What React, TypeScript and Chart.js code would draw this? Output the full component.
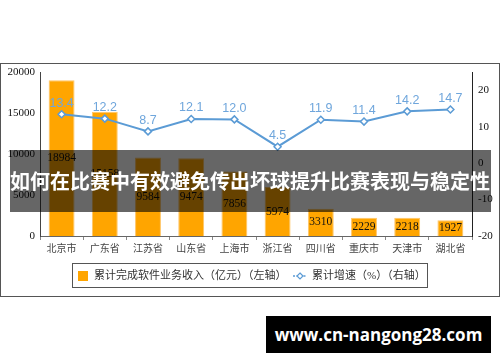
import React, { useEffect, useRef } from "react";
import { Chart, registerables } from "chart.js";

Chart.register(...registerables);

const categories = ["北京市", "广东省", "江苏省", "山东省", "上海市", "浙江省", "四川省", "重庆市", "天津市", "湖北省"];
const revenue = [18984, 15158, 9584, 9474, 7856, 5974, 3310, 2229, 2218, 1927];
const growth = [13.4, 12.2, 8.7, 12.1, 12.0, 4.5, 11.9, 11.4, 14.2, 14.7];
const rightTicks = [-20, -10, 0, 10, 20];
const barLabel = "累计完成软件业务收入（亿元）（左轴）";
const lineLabel = "累计增速（%）（右轴）";
const bannerText = "如何在比赛中有效避免传出坏球提升比赛表现与稳定性";
const siteText = "www.cn-nangong28.com";

const ORANGE = "#FFA500";
const BLUE = "#5B9BD5";
const SERIF = '"Liberation Serif", "Times New Roman", "Noto Sans CJK SC", serif';

const labelPlugin = {
  id: "valueLabels",
  afterDatasetsDraw(chart: any) {
    const ctx = chart.ctx;
    ctx.save();
    chart.data.datasets.forEach((ds: any, i: number) => {
      const meta = chart.getDatasetMeta(i);
      meta.data.forEach((el: any, j: number) => {
        const v = ds.data[j];
        if (ds.type === "bar") {
          ctx.font = "11.5px " + SERIF;
          ctx.fillStyle = "#111";
          ctx.textAlign = "center";
          ctx.textBaseline = "middle";
          ctx.fillText(String(v), el.x, (el.y + el.base) / 2);
        } else {
          ctx.font = '12.5px "Liberation Sans", Arial, sans-serif';
          ctx.fillStyle = "#6FA6DC";
          ctx.textAlign = "center";
          ctx.textBaseline = "middle";
          ctx.fillText(v.toFixed(1), el.x, el.y - 11);
        }
      });
    });
    ctx.restore();
  },
};

export default function App() {
  const ref = useRef<HTMLCanvasElement | null>(null);
  useEffect(() => {
    if (!ref.current) return;
    const chart = new Chart(ref.current, {
      type: "bar",
      data: {
        labels: categories,
        datasets: [
          {
            type: "line",
            label: lineLabel,
            data: growth,
            yAxisID: "y1",
            borderColor: BLUE,
            borderWidth: 2,
            pointStyle: "rectRot",
            pointRadius: 3.5,
            pointBackgroundColor: "#fff",
            pointBorderColor: BLUE,
            pointBorderWidth: 1.5,
            tension: 0,
            order: 0,
          } as any,
          {
            type: "bar",
            label: barLabel,
            data: revenue,
            yAxisID: "y",
            backgroundColor: ORANGE,
            borderColor: "#FFC566",
            borderWidth: 1,
            categoryPercentage: 0.6,
            barPercentage: 1,
            order: 1,
          } as any,
        ],
      },
      options: {
        responsive: false,
        animation: false,
        layout: { padding: { top: 72, left: 0, right: 0, bottom: 0 } },
        plugins: { legend: { display: false }, tooltip: { enabled: false } },
        scales: {
          x: {
            grid: { display: true, drawOnChartArea: false, drawTicks: true, tickLength: 4, color: "#888", offset: true },
            border: { color: "#666", width: 1 },
            ticks: { padding: 3, color: "#444", font: { size: 10, family: SERIF } },
            afterFit: (s: any) => { s.height = 126; },
          },
          y: {
            position: "left",
            min: 0,
            max: 20000,
            ticks: { stepSize: 5000, padding: 5, color: "#111", font: { size: 11, family: SERIF }, callback: (v: any) => String(v) },
            grid: { display: false, drawTicks: false },
            border: { color: "#444", width: 1 },
            afterFit: (s: any) => { s.width = 40; },
          },
          y1: {
            position: "right",
            min: -20,
            max: 25,
            ticks: { stepSize: 10, padding: 6, color: "#111", font: { size: 11, family: SERIF }, callback: (v: any) => String(v) },
            grid: { display: false, drawTicks: false },
            border: { color: "#222", width: 1 },
            afterBuildTicks: (s: any) => { s.ticks = rightTicks.map((v) => ({ value: v })); },
            afterFit: (s: any) => { s.width = 28; },
          },
        },
      },
      plugins: [labelPlugin],
    });
    return () => chart.destroy();
  }, []);

  return (
    <div style={{ position: "absolute", left: 0, top: 0, width: 500, height: 362, background: "#fff", overflow: "hidden" }}>
      <div style={{ position: "absolute", left: 0, top: 63, width: 500, height: 234, border: "1.5px solid #555", boxSizing: "border-box" }} />
      <canvas ref={ref} width={500} height={362} style={{ position: "absolute", left: 0, top: 0, display: "block" }} />
      <div style={{ position: "absolute", left: 72, top: 263, width: 356, height: 25, border: "1px solid #555", boxSizing: "border-box", fontFamily: SERIF, fontSize: 11, color: "#333" }}>
        <div style={{ position: "absolute", left: 5, top: 7, width: 10, height: 10, background: ORANGE }} />
        <div style={{ position: "absolute", left: 21, top: 4, whiteSpace: "nowrap", lineHeight: "15px" }}>{barLabel}</div>
        <svg style={{ position: "absolute", left: 220, top: 7 }} width="14" height="10">
          <line x1="0" y1="5" x2="14" y2="5" stroke={BLUE} strokeWidth="1.5" strokeDasharray="2,1.5" />
          <polygon points="7,2 10,5 7,8 4,5" fill="#fff" stroke={BLUE} strokeWidth="1.2" />
        </svg>
        <div style={{ position: "absolute", left: 239, top: 4, whiteSpace: "nowrap", lineHeight: "15px" }}>{lineLabel}</div>
      </div>
      <div style={{ position: "absolute", left: 10, top: 150, width: 481, height: 62, background: "rgba(0,0,0,0.6)", color: "#fff", fontFamily: '"Noto Sans CJK SC", sans-serif', fontWeight: 700, fontSize: 20, lineHeight: "62px", whiteSpace: "nowrap", overflow: "hidden" }}>
        {bannerText}
      </div>
      <div style={{ position: "absolute", left: 266, top: 316, width: 225, height: 37, background: "#000", color: "#fff", fontFamily: '"Open Sans", sans-serif', fontWeight: 700, fontSize: 17, lineHeight: "37px", textAlign: "center", whiteSpace: "nowrap" }}>
        {siteText}
      </div>
    </div>
  );
}
